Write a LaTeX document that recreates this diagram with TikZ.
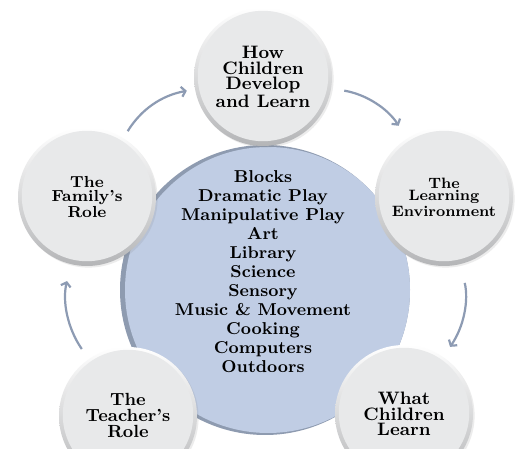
\documentclass[tikz,border=0pt]{standalone}
\usepackage{tikz}
\usepackage{xcolor}
\usetikzlibrary{arrows.meta, shadows}
\definecolor{customcolor1}{HTML}{E8E9EA}
\definecolor{customcolor2}{HTML}{B4B5B7}
\definecolor{customcolor3}{HTML}{C0CDE4}
\definecolor{customcolor4}{HTML}{8E9BB0}
\definecolor{customcolor5}{HTML}{8D9BB3}

\begin{document}
\begin{tikzpicture}[x = 0.5pt, y = 0.5pt,
        bubble/.style = {circle, minimum size = 69pt, inner sep = 0pt, align = center,
            top color = white, bottom color = customcolor2,
            drop shadow = {opacity = 0.15, shadow xshift = 0.8pt, shadow yshift = -0.8pt},
            path picture = {\fill [customcolor1] ([yshift = 0.5pt] path picture bounding box.center) circle (32.6pt);}},
        hub/.style = {circle, minimum size = 145pt, inner sep = 0pt, fill = customcolor4,
            path picture = {\fill [customcolor3] ([xshift = 1.5pt] path picture bounding box.center) circle (71.5pt);}},
        link/.style = {-{Straight Barb[length = 2pt, width = 5pt]}, line width = 1.1pt, color = customcolor5}]
        \path [use as bounding box, fill = white] (0, 0) rectangle (520, 449);

        % Centre
        \node [hub] (hub) at (265, 159) {};
        \node [font = \bfseries\fontsize{8.6}{9.5}\selectfont, align = center] (areas) at (263, 177)
            {Blocks\\Dramatic Play\\Manipulative Play\\Art\\Library\\Science\\Sensory\\Music \& Movement\\Cooking\\Computers\\Outdoors};

        % Outer circles
        \node [bubble, font = \bfseries\fontsize{9}{7.6}\selectfont] (how) at (263, 372) {How\\Children\\Develop\\and Learn};
        \node [bubble, font = \bfseries\fontsize{7.5}{6.4}\selectfont] (env) at (444, 252) {The\\Learning\\Environment};
        \node [bubble, font = \bfseries\fontsize{8}{7}\selectfont] (family) at (87, 252) {The\\Family's\\Role};
        \node [bubble, font = \bfseries\fontsize{8.8}{8}\selectfont] (teacher) at (128, 33) {The\\Teacher's\\Role};
        \node [bubble, font = \bfseries\fontsize{9}{7.6}\selectfont] (what) at (404, 35) {What\\Children\\Learn};

        % Draw the links
        \draw [link, shorten < = 4pt, shorten > = 4pt] (family) to [bend left = 24] (how);
        \draw [link, shorten < = 6.5pt, shorten > = 7.5pt] (how) to [bend left = 24] (env);
        \draw [link, shorten < = 9.5pt, shorten > = 6pt] (env) to [bend left = 24] (what);
        \draw [link, shorten < = 6pt, shorten > = 8.5pt] (teacher) to [bend left = 24] (family);

    \end{tikzpicture}
\end{document}
